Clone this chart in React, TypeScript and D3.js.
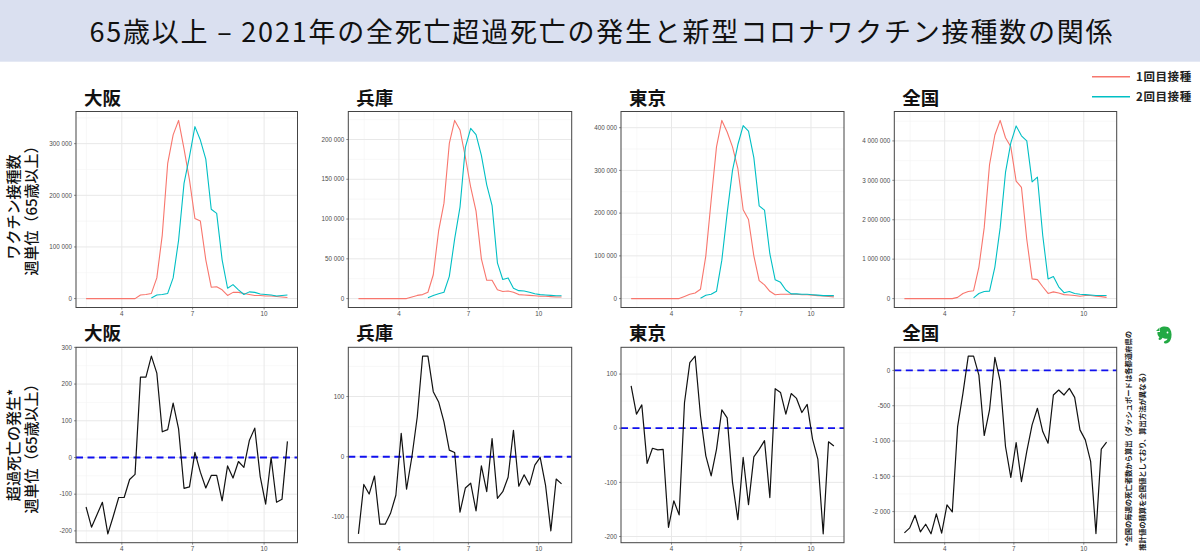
import * as d3 from "d3";

// ---- data ----

const titleText = "65歳以上 – 2021年の全死亡超過死亡の発生と新型コロナワクチン接種数の関係";
const regionNames = ["大阪", "兵庫", "東京", "全国"];
const legendLabels = ["1回目接種", "2回目接種"];
const vaxAxisTitle = ["ワクチン接種数", "週単位（65歳以上）"];
const excessAxisTitle = ["超過死亡の発生*", "週単位（65歳以上）"];
const noteLines = [
  "*全国の毎週の死亡者数から算出（ダッシュボードは各都道府県の",
  "推計値の積算を全国値としており、算出方法が異なる）",
];

// week-ending dates: Osaka series is one week shorter
const osakaStart = "2021-02-14";
const otherStart = "2021-02-07";
const monthTicks = ["2021-04-01", "2021-07-01", "2021-10-01"];

const osakaDose1 = [
  0, 0, 0, 0, 0, 0, 0, 0, 0, 0, 7000, 8000, 10000, 40000, 123000, 262000,
  317000, 345000, 290000, 230000, 155000, 150000, 75000, 22000, 23000, 17000,
  6000, 12000, 12000, 10000, 8000, 6000, 6000, 5000, 5000, 4000, 3000, 2000,
];
const osakaDose2 = [
  null, null, null, null, null, null, null, null, null, null, null, null, 1000,
  7000, 8000, 10000, 40000, 113000, 223000, 275000, 333000, 307000, 270000,
  173000, 165000, 75000, 20000, 27000, 17000, 8000, 13000, 12000, 9000, 8000,
  7000, 5000, 6000, 7000,
];
const osakaExcess = [
  -135, -190, -156, -122, -208, -160, -109, -109, -60, -46, 219, 219, 276, 230,
  70, 76, 148, 78, -84, -80, 14, -40, -83, -49, -49, -118, -23, -56, -11, -27,
  46, 80, -52, -127, 0, -122, -114, 44,
];

const hyogoDose1 = [
  0, 0, 0, 0, 0, 0, 0, 0, 0, 0, 2000, 4000, 5000, 8000, 30000, 85000, 120000,
  195000, 224000, 212000, 178000, 140000, 110000, 50000, 23000, 23000, 11000,
  9000, 9500, 8000, 5000, 4500, 4000, 3500, 3000, 3000, 2500, 2000, 2000,
];
const hyogoDose2 = [
  null, null, null, null, null, null, null, null, null, null, null, null, null,
  1000, 4000, 6000, 8000, 28000, 75000, 115000, 190000, 214000, 206000, 180000,
  143000, 117000, 45000, 24000, 26000, 13000, 10000, 9500, 8000, 6000, 5000,
  4500, 4000, 3500, 3500,
];
const hyogoExcess = [
  -128, -46, -62, -32, -112, -112, -94, -64, 39, -54, 0, 66, 167, 167, 108, 91,
  58, 11, 7, -92, -52, -44, -90, -15, -58, 30, -69, -58, -34, 44, -49, -30, -47,
  -14, -1, -47, -123, -37, -45,
];

const tokyoDose1 = [
  0, 0, 0, 0, 0, 0, 0, 0, 0, 0, 5000, 10000, 13000, 22000, 100000, 230000,
  355000, 417000, 390000, 355000, 305000, 208000, 185000, 100000, 42000, 32000,
  17000, 9000, 10000, 10000, 10000, 10000, 9000, 9000, 8000, 7000, 6000, 5000,
  4000,
];
const tokyoDose2 = [
  null, null, null, null, null, null, null, null, null, null, null, null, null,
  1000, 8000, 10000, 17000, 90000, 200000, 300000, 360000, 405000, 392000,
  330000, 217000, 207000, 105000, 44000, 38000, 20000, 11000, 11000, 10000,
  10000, 9000, 8000, 7000, 7000, 7000,
];
const tokyoExcess = [
  78, 26, 43, -65, -37, -40, -39, -183, -134, -160, 47, 121, 133, 23, -51, -88,
  -39, 34, 19, -100, -169, -54, -141, -53, -39, -23, -128, 73, 66, 26, 64, 55,
  29, 44, -20, -57, -195, -25, -33,
];

const japanDose1 = [
  0, 0, 0, 0, 0, 0, 0, 0, 0, 0, 30000, 130000, 180000, 200000, 800000, 1800000,
  3400000, 4150000, 4520000, 4080000, 3850000, 2980000, 2820000, 1500000,
  500000, 480000, 300000, 130000, 170000, 140000, 100000, 90000, 80000, 60000,
  80000, 80000, 60000, 50000, 30000,
];
const japanDose2 = [
  null, null, null, null, null, null, null, null, null, null, null, null, null,
  20000, 130000, 180000, 190000, 800000, 1800000, 3200000, 3950000, 4380000,
  4130000, 4000000, 2960000, 3080000, 1600000, 500000, 560000, 300000, 150000,
  180000, 130000, 110000, 100000, 90000, 80000, 80000, 80000,
];
const japanExcess = [
  -2301, -2231, -2052, -2287, -2179, -2315, -2033, -2306, -1906, -2005, -795,
  -325, 202, 202, -66, -922, -560, 184, -151, -1078, -1515, -1021, -1576, -1148,
  -772, -536, -866, -1031, -348, -278, -348, -254, -381, -842, -984, -1289,
  -2311, -1115, -1016,
];

const osakaVaxTicks = [0, 100000, 200000, 300000];
const hyogoVaxTicks = [0, 50000, 100000, 150000, 200000];
const tokyoVaxTicks = [0, 100000, 200000, 300000, 400000];
const japanVaxTicks = [0, 1000000, 2000000, 3000000, 4000000];

const osakaExcessTicks = [-200, -100, 0, 100, 200, 300];
const hyogoExcessTicks = [-100, 0, 100];
const tokyoExcessTicks = [-200, -100, 0, 100];
const japanExcessTicks = [-2000, -1500, -1000, -500, 0];

// ---- styling / layout ----

const W = 1200;
const H = 557;
const dose1Color = "#F8766D";
const dose2Color = "#00BFC4";
const cjk = "'Noto Sans CJK JP', 'Noto Sans', sans-serif";
const latin = "'Liberation Sans', Arial, sans-serif";

const colX: [number, number][] = [
  [76, 297.5],
  [348.3, 571.7],
  [621, 844],
  [894.3, 1116.7],
];
const topRow: [number, number] = [111.5, 307.5];
const bottomRow: [number, number] = [347.3, 542.7];

const parse = d3.timeParse("%Y-%m-%d");
const fmt = d3.formatLocale({
  decimal: ".",
  thousands: " ",
  grouping: [3],
  currency: ["", ""],
  minus: "-",
}).format(",");

const weeks = (start: string, n: number) =>
  d3.range(n).map((i) => d3.timeDay.offset(parse(start) as Date, 7 * i));

const regions = [
  { start: osakaStart, d1: osakaDose1, d2: osakaDose2, ex: osakaExcess, vt: osakaVaxTicks, et: osakaExcessTicks },
  { start: otherStart, d1: hyogoDose1, d2: hyogoDose2, ex: hyogoExcess, vt: hyogoVaxTicks, et: hyogoExcessTicks },
  { start: otherStart, d1: tokyoDose1, d2: tokyoDose2, ex: tokyoExcess, vt: tokyoVaxTicks, et: tokyoExcessTicks },
  { start: otherStart, d1: japanDose1, d2: japanDose2, ex: japanExcess, vt: japanVaxTicks, et: japanExcessTicks },
];

type Series = { values: (number | null)[]; color: string; width: number };

// ggplot-style minor breaks: halfway between majors, one step past each end
const minorOf = (major: number[], lo: number, hi: number) => {
  if (major.length < 2) return [];
  const step = major[1] - major[0];
  const out: number[] = [];
  for (let v = major[0] - step / 2; v <= major[major.length - 1] + step / 2 + 1e-9; v += step) {
    if (v >= lo && v <= hi) out.push(v);
  }
  return out;
};

function Panel({
  box,
  title,
  dates,
  series,
  yTicks,
  zeroLine,
}: {
  box: [number, number, number, number];
  title: string;
  dates: Date[];
  series: Series[];
  yTicks: number[];
  zeroLine: boolean;
}) {
  const [x0, y0, x1, y1] = box;
  const t0 = dates[0].getTime();
  const t1 = dates[dates.length - 1].getTime();
  const tp = (t1 - t0) * 0.05;
  const x = d3.scaleTime().domain([new Date(t0 - tp), new Date(t1 + tp)]).range([x0, x1]);

  const all = series.flatMap((s) => s.values).filter((v): v is number => v != null);
  const lo = d3.min(all) as number;
  const hi = d3.max(all) as number;
  const yp = (hi - lo) * 0.05;
  const y = d3.scaleLinear().domain([lo - yp, hi + yp]).range([y1, y0]);

  const xMajor = monthTicks.map((s) => (parse(s) as Date).getTime());
  const xMinor = minorOf(xMajor, t0 - tp, t1 + tp);
  const yMinor = minorOf(yTicks, lo - yp, hi + yp);

  const line = d3
    .line<number | null>()
    .defined((v) => v != null)
    .x((_, i) => x(dates[i]))
    .y((v) => y(v as number));

  return (
    <g>
      <rect x={x0} y={y0} width={x1 - x0} height={y1 - y0} fill="#ffffff" />
      {xMinor.map((t) => (
        <line key={"xm" + t} x1={x(new Date(t))} x2={x(new Date(t))} y1={y0} y2={y1} stroke="#f3f3f3" strokeWidth={0.6} />
      ))}
      {yMinor.map((v) => (
        <line key={"ym" + v} x1={x0} x2={x1} y1={y(v)} y2={y(v)} stroke="#f3f3f3" strokeWidth={0.6} />
      ))}
      {xMajor.map((t) => (
        <line key={"xM" + t} x1={x(new Date(t))} x2={x(new Date(t))} y1={y0} y2={y1} stroke="#e8e8e8" strokeWidth={1} />
      ))}
      {yTicks.map((v) => (
        <line key={"yM" + v} x1={x0} x2={x1} y1={y(v)} y2={y(v)} stroke="#e8e8e8" strokeWidth={1} />
      ))}
      {zeroLine && (
        <line x1={x0} x2={x1} y1={y(0)} y2={y(0)} stroke="#1010ee" strokeWidth={1.8} strokeDasharray="7,4.5" />
      )}
      {series.map((s, i) => (
        <path key={i} d={line(s.values) ?? ""} fill="none" stroke={s.color} strokeWidth={s.width} strokeLinejoin="round" />
      ))}
      <rect x={x0} y={y0} width={x1 - x0} height={y1 - y0} fill="none" stroke="#444" strokeWidth={1} />
      {yTicks.map((v) => (
        <g key={"yl" + v}>
          <line x1={x0 - 2} x2={x0} y1={y(v)} y2={y(v)} stroke="#444" strokeWidth={0.6} />
          <text x={x0 - 4} y={y(v)} dy="0.35em" textAnchor="end" fontSize={6.3} fill="#4d4d4d" fontFamily={latin}>
            {fmt(v)}
          </text>
        </g>
      ))}
      {xMajor.map((t) => (
        <g key={"xl" + t}>
          <line x1={x(new Date(t))} x2={x(new Date(t))} y1={y1} y2={y1 + 2} stroke="#444" strokeWidth={0.6} />
          <text x={x(new Date(t))} y={y1 + 8.5} textAnchor="middle" fontSize={6.3} fill="#4d4d4d" fontFamily={latin}>
            {d3.timeFormat("%-m")(new Date(t))}
          </text>
        </g>
      ))}
      <text x={x0 + 8} y={y0 - 7} fontSize={18.5} fontWeight={700} fontFamily={cjk} fill="#111">
        {title}
      </text>
    </g>
  );
}

function AxisTitle({ lines, cy }: { lines: string[]; cy: number }) {
  const xs = [19, 37];
  return (
    <g>
      {lines.map((l, i) => (
        <text
          key={i}
          transform={`translate(${xs[i]},${cy}) rotate(-90)`}
          textAnchor="middle"
          fontSize={15}
          fontWeight={500}
          fontFamily={cjk}
          fill="#111"
        >
          {l}
        </text>
      ))}
    </g>
  );
}

export default function App() {
  return (
    <svg
      width={W}
      height={H}
      style={{ position: "absolute", left: 0, top: 0, background: "#fff" }}
    >
      <rect x={0} y={0} width={W} height={H} fill="#ffffff" />
      <rect x={0} y={0} width={W} height={61.7} fill="#dae0f0" />
      <text
        x={601}
        y={41.5}
        textAnchor="middle"
        fontSize={27}
        fontFamily={cjk}
        fill="#111"
        textLength={1023}
        lengthAdjust="spacing"
      >
        {titleText}
      </text>

      <AxisTitle lines={vaxAxisTitle} cy={207} />
      <AxisTitle lines={excessAxisTitle} cy={445} />

      {regions.map((r, i) => (
        <g key={regionNames[i]}>
          <Panel
            box={[colX[i][0], topRow[0], colX[i][1], topRow[1]]}
            title={regionNames[i]}
            dates={weeks(r.start, r.d1.length)}
            series={[
              { values: r.d1, color: dose1Color, width: 1.1 },
              { values: r.d2, color: dose2Color, width: 1.1 },
            ]}
            yTicks={r.vt}
            zeroLine={false}
          />
          <Panel
            box={[colX[i][0], bottomRow[0], colX[i][1], bottomRow[1]]}
            title={regionNames[i]}
            dates={weeks(r.start, r.ex.length)}
            series={[{ values: r.ex, color: "#111", width: 1.2 }]}
            yTicks={r.et}
            zeroLine={true}
          />
        </g>
      ))}

      {/* legend */}
      {legendLabels.map((l, i) => (
        <g key={l} transform={`translate(0,${76.7 + i * 20})`}>
          <line x1={1092} x2={1130} y1={0} y2={0} stroke={i === 0 ? dose1Color : dose2Color} strokeWidth={1.6} />
          <text x={1136} y={0} dy="0.36em" fontSize={11.5} fontWeight={700} fontFamily={cjk} fill="#222" letterSpacing={0.6}>
            {l}
          </text>
        </g>
      ))}

      {/* footnote, rotated */}
      {noteLines.map((l, i) => (
        <text
          key={i}
          transform={`translate(${1131 + i * 13.5},${331 + i * 38}) rotate(-90)`}
          textAnchor="end"
          fontSize={7.3}
          fontWeight={700}
          fontFamily={cjk}
          fill="#222"
        >
          {l}
        </text>
      ))}

      {/* note-app icon */}
      <g transform="translate(1155,326)" fill="#22a944">
        <path d="M5,2 C8,0 13,0 15,3 C17,6 17,11 15.5,14 C14.5,16.5 12,18 10,17.5 C8.5,17 8.5,15.5 10,15 C11.5,14.6 12.5,13.8 12.3,12.5 C11,13 9,12.8 7.5,11.8 C7,13 6,14 4.5,14 C3,13.5 3.5,12 4.5,11.5 C3,10 2,8 2.5,6 L5,6 Z" />
        <path d="M1,5 L4.5,1.5 L4.5,5 Z" />
        <circle cx={12.5} cy={6.5} r={0.9} fill="#ffffff" />
      </g>
    </svg>
  );
}
